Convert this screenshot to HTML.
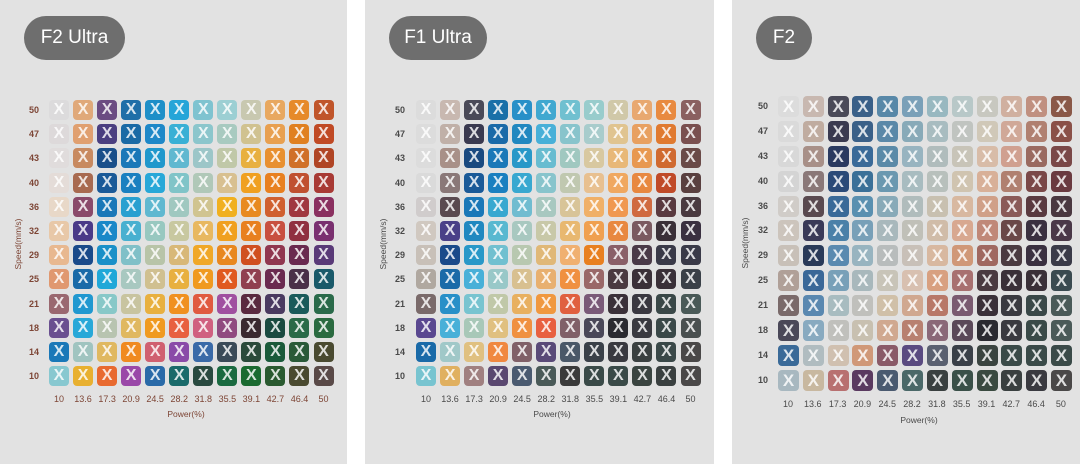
<!DOCTYPE html>
<html><head><meta charset="utf-8">
<style>
*{margin:0;padding:0;box-sizing:border-box}
body{width:1080px;height:464px;background:#fff;position:relative;overflow:hidden;font-family:"Liberation Sans",sans-serif}
.p{position:absolute;top:0;height:464px;background:#e2e2e2}
.b{position:absolute;top:16px;height:44px;border-radius:22px;background:#6e6e6e;color:#fff;font-size:19px;line-height:44px;text-align:center}
.g{position:absolute;display:grid;grid-template-columns:repeat(12,20px);grid-auto-rows:20px;column-gap:4.05px;row-gap:4.2px}
.g i{display:block;border-radius:4px;color:rgba(255,255,255,.82);font:bold 16px/20px "Liberation Sans",sans-serif;text-align:center;font-style:normal}
.g3{grid-template-columns:repeat(12,21px);grid-auto-rows:21px;column-gap:3.82px;row-gap:3.9px}
.g3 i{font-size:17px;line-height:21px}
.yl{position:absolute;display:grid;grid-auto-rows:20px;row-gap:4.2px;width:22px;text-align:center;font-size:9px;font-weight:bold;line-height:20px}
.yl3{grid-auto-rows:21px;row-gap:3.9px;line-height:21px}
.xl{position:absolute;display:grid;grid-template-columns:repeat(12,20px);column-gap:4.05px;font-size:9px;line-height:14px;text-align:center;white-space:nowrap}
.xl3{grid-template-columns:repeat(12,21px);column-gap:3.82px}
.xl span{display:block;width:20px;text-align:center;overflow:visible}
.pw{position:absolute;font-size:8.5px;line-height:12px;width:60px;text-align:center}
.sp{position:absolute;font-size:8.5px;line-height:12px;width:70px;text-align:center;transform:rotate(-90deg)}
.c1{color:#7d4535}
.c2{color:#4a4a4a}
</style></head><body>

<div class="p" style="left:0;width:347px"></div>
<div class="p" style="left:365px;width:349px"></div>
<div class="p" style="left:732px;width:348px"></div>

<div class="b" style="left:24px;width:101px">F2 Ultra</div>
<div class="b" style="left:389px;width:98px">F1 Ultra</div>
<div class="b" style="left:756px;width:56px">F2</div>

<!-- Panel 1 -->
<div class="yl c1" style="left:23px;top:100px"><span>50</span><span>47</span><span>43</span><span>40</span><span>36</span><span>32</span><span>29</span><span>25</span><span>21</span><span>18</span><span>14</span><span>10</span></div>
<div class="g" style="left:49px;top:100px">
<i style="background:#dcdbdc">X</i><i style="background:#e0a97a">X</i><i style="background:#6b4c82">X</i><i style="background:#1f6fa8">X</i><i style="background:#1e8fc8">X</i><i style="background:#25a5d8">X</i><i style="background:#7fc3d0">X</i><i style="background:#9ccfd3">X</i><i style="background:#c8c8b0">X</i><i style="background:#e8a860">X</i><i style="background:#e68a2a">X</i><i style="background:#c0552a">X</i>
<i style="background:#ddd9da">X</i><i style="background:#e0a070">X</i><i style="background:#4a3f80">X</i><i style="background:#1a6aa5">X</i><i style="background:#1e88c8">X</i><i style="background:#38b0d5">X</i><i style="background:#8cc6cc">X</i><i style="background:#a8cac0">X</i><i style="background:#d0c290">X</i><i style="background:#e8a050">X</i><i style="background:#e08020">X</i><i style="background:#c04a25">X</i>
<i style="background:#e0dcdc">X</i><i style="background:#c88a60">X</i><i style="background:#1a4f8a">X</i><i style="background:#1a78b8">X</i><i style="background:#2098cc">X</i><i style="background:#60b8d0">X</i><i style="background:#9cc6c8">X</i><i style="background:#c0c8a8">X</i><i style="background:#e8b040">X</i><i style="background:#e89030">X</i><i style="background:#d07028">X</i><i style="background:#b04525">X</i>
<i style="background:#e4dcd8">X</i><i style="background:#a86a50">X</i><i style="background:#1a5a98">X</i><i style="background:#1a80c0">X</i><i style="background:#28a8d8">X</i><i style="background:#80c4c8">X</i><i style="background:#b0c8b8">X</i><i style="background:#d8c090">X</i><i style="background:#f0a020">X</i><i style="background:#e88020">X</i><i style="background:#c05030">X</i><i style="background:#a83a35">X</i>
<i style="background:#e8d8c8">X</i><i style="background:#8a4a6a">X</i><i style="background:#1a78b8">X</i><i style="background:#28a0d0">X</i><i style="background:#60b8d0">X</i><i style="background:#a0c8c0">X</i><i style="background:#d0c490">X</i><i style="background:#f0b020">X</i><i style="background:#e88a20">X</i><i style="background:#d06030">X</i><i style="background:#a03840">X</i><i style="background:#8a3060">X</i>
<i style="background:#e8c8a8">X</i><i style="background:#4a3a88">X</i><i style="background:#1a88c8">X</i><i style="background:#48b0d0">X</i><i style="background:#98c8c0">X</i><i style="background:#c8c8a0">X</i><i style="background:#e8b860">X</i><i style="background:#f0a020">X</i><i style="background:#e88020">X</i><i style="background:#c85040">X</i><i style="background:#903040">X</i><i style="background:#7a3070">X</i>
<i style="background:#e8b890">X</i><i style="background:#1a4a8a">X</i><i style="background:#1a90c8">X</i><i style="background:#80c0c8">X</i><i style="background:#b8c4a8">X</i><i style="background:#d8b878">X</i><i style="background:#f0a828">X</i><i style="background:#e88820">X</i><i style="background:#d05020">X</i><i style="background:#903850">X</i><i style="background:#6a2a50">X</i><i style="background:#5a3a78">X</i>
<i style="background:#e09870">X</i><i style="background:#1a6aa8">X</i><i style="background:#20a8d8">X</i><i style="background:#a8c8c0">X</i><i style="background:#d0c090">X</i><i style="background:#e8b040">X</i><i style="background:#f09a20">X</i><i style="background:#e05a20">X</i><i style="background:#904050">X</i><i style="background:#6a2a50">X</i><i style="background:#4a3048">X</i><i style="background:#1a5a6a">X</i>
<i style="background:#9a6870">X</i><i style="background:#2098d0">X</i><i style="background:#88c8c8">X</i><i style="background:#c8c4a0">X</i><i style="background:#e8b040">X</i><i style="background:#f09020">X</i><i style="background:#e05a40">X</i><i style="background:#a050a0">X</i><i style="background:#5a2a40">X</i><i style="background:#4a3a60">X</i><i style="background:#1a5a5a">X</i><i style="background:#2a6a4a">X</i>
<i style="background:#6a5090">X</i><i style="background:#28a8d8">X</i><i style="background:#b8c4b0">X</i><i style="background:#e0b860">X</i><i style="background:#f09a20">X</i><i style="background:#e86040">X</i><i style="background:#d06080">X</i><i style="background:#904a80">X</i><i style="background:#3a2a30">X</i><i style="background:#1a4a40">X</i><i style="background:#2a6a48">X</i><i style="background:#2a6a40">X</i>
<i style="background:#1a78b8">X</i><i style="background:#a0c4c0">X</i><i style="background:#e0b860">X</i><i style="background:#f08a20">X</i><i style="background:#d06070">X</i><i style="background:#8a4aa8">X</i><i style="background:#3a6aa8">X</i><i style="background:#3a4a58">X</i><i style="background:#2a4a3a">X</i><i style="background:#1a5a3a">X</i><i style="background:#2a5a38">X</i><i style="background:#4a4a30">X</i>
<i style="background:#88c8d0">X</i><i style="background:#e8b030">X</i><i style="background:#e86a30">X</i><i style="background:#9a48a8">X</i><i style="background:#2a6aa8">X</i><i style="background:#1a6a6a">X</i><i style="background:#2a4a40">X</i><i style="background:#1a6a40">X</i><i style="background:#1a6a30">X</i><i style="background:#2a5a30">X</i><i style="background:#4a4a30">X</i><i style="background:#5a4a48">X</i>
</div>
<div class="xl c1" style="left:49px;top:392px"><span>10</span><span>13.6</span><span>17.3</span><span>20.9</span><span>24.5</span><span>28.2</span><span>31.8</span><span>35.5</span><span>39.1</span><span>42.7</span><span>46.4</span><span>50</span></div>
<div class="pw c1" style="left:156px;top:408px">Power(%)</div>
<div class="sp c1" style="left:-17px;top:238px">Speed(mm/s)</div>

<!-- Panel 2 -->
<div class="yl c2" style="left:389px;top:100px"><span>50</span><span>47</span><span>43</span><span>40</span><span>36</span><span>32</span><span>29</span><span>25</span><span>21</span><span>18</span><span>14</span><span>10</span></div>
<div class="g" style="left:416px;top:100px">
<i style="background:#dcdcdc">X</i><i style="background:#c8b8b0">X</i><i style="background:#4a4a58">X</i><i style="background:#1a70a8">X</i><i style="background:#2890c8">X</i><i style="background:#40a8d0">X</i><i style="background:#70c0d0">X</i><i style="background:#98cccc">X</i><i style="background:#d0c8a8">X</i><i style="background:#e8a870">X</i><i style="background:#e88a40">X</i><i style="background:#8a6060">X</i>
<i style="background:#dcdcdc">X</i><i style="background:#c0b0a8">X</i><i style="background:#3a3a50">X</i><i style="background:#1a6aa8">X</i><i style="background:#2088c0">X</i><i style="background:#48b0d8">X</i><i style="background:#88c4cc">X</i><i style="background:#a8cccc">X</i><i style="background:#e0c490">X</i><i style="background:#e8a060">X</i><i style="background:#e07a30">X</i><i style="background:#7a5050">X</i>
<i style="background:#dcdcdc">X</i><i style="background:#a89088">X</i><i style="background:#1a4a80">X</i><i style="background:#1a78b8">X</i><i style="background:#2898c8">X</i><i style="background:#68bcd0">X</i><i style="background:#a0c8c0">X</i><i style="background:#d8c8a0">X</i><i style="background:#e8b878">X</i><i style="background:#e89850">X</i><i style="background:#d06a30">X</i><i style="background:#6a4a48">X</i>
<i style="background:#dadada">X</i><i style="background:#8a7878">X</i><i style="background:#1a5a98">X</i><i style="background:#1a80c0">X</i><i style="background:#38a8d0">X</i><i style="background:#88c4cc">X</i><i style="background:#c0c8b0">X</i><i style="background:#e8c090">X</i><i style="background:#f0a860">X</i><i style="background:#e88840">X</i><i style="background:#c04a28">X</i><i style="background:#5a4040">X</i>
<i style="background:#d0cccc">X</i><i style="background:#5a4a50">X</i><i style="background:#1a78b8">X</i><i style="background:#38a8d0">X</i><i style="background:#70bcd0">X</i><i style="background:#a8c8c0">X</i><i style="background:#d8c498">X</i><i style="background:#f0b068">X</i><i style="background:#f09850">X</i><i style="background:#d06a40">X</i><i style="background:#5a3a40">X</i><i style="background:#4a3a40">X</i>
<i style="background:#d0c8c0">X</i><i style="background:#4a4088">X</i><i style="background:#2088c0">X</i><i style="background:#58b8d0">X</i><i style="background:#a8c8c0">X</i><i style="background:#c8c8a8">X</i><i style="background:#e8b870">X</i><i style="background:#f0a050">X</i><i style="background:#e88840">X</i><i style="background:#7a5a60">X</i><i style="background:#3a3038">X</i><i style="background:#3a3040">X</i>
<i style="background:#c8c0b8">X</i><i style="background:#1a4a8a">X</i><i style="background:#2898c8">X</i><i style="background:#70c0d0">X</i><i style="background:#b8c8b0">X</i><i style="background:#e0b878">X</i><i style="background:#f0b070">X</i><i style="background:#e88020">X</i><i style="background:#8a6068">X</i><i style="background:#4a3a48">X</i><i style="background:#3a3a48">X</i><i style="background:#3a3a48">X</i>
<i style="background:#b0a8a0">X</i><i style="background:#1a6aa8">X</i><i style="background:#48b0d8">X</i><i style="background:#98c8c8">X</i><i style="background:#d8c090">X</i><i style="background:#e8b070">X</i><i style="background:#f09040">X</i><i style="background:#9a6868">X</i><i style="background:#4a3a40">X</i><i style="background:#3a3038">X</i><i style="background:#3a3038">X</i><i style="background:#3a4048">X</i>
<i style="background:#7a6a6a">X</i><i style="background:#2890c8">X</i><i style="background:#78c4d0">X</i><i style="background:#c0c8a8">X</i><i style="background:#e8b060">X</i><i style="background:#f09840">X</i><i style="background:#e06040">X</i><i style="background:#7a5a78">X</i><i style="background:#3a3038">X</i><i style="background:#3a3840">X</i><i style="background:#3a4848">X</i><i style="background:#4a5a58">X</i>
<i style="background:#5a4890">X</i><i style="background:#48b0d8">X</i><i style="background:#a8c8b8">X</i><i style="background:#e0c080">X</i><i style="background:#f09040">X</i><i style="background:#e86040">X</i><i style="background:#806068">X</i><i style="background:#4a4858">X</i><i style="background:#2a2a30">X</i><i style="background:#3a3a40">X</i><i style="background:#3a4848">X</i><i style="background:#4a5050">X</i>
<i style="background:#1a6aa8">X</i><i style="background:#a0c8c8">X</i><i style="background:#e0c080">X</i><i style="background:#f08840">X</i><i style="background:#806068">X</i><i style="background:#5a4a78">X</i><i style="background:#4a5868">X</i><i style="background:#3a4048">X</i><i style="background:#3a3a40">X</i><i style="background:#3a4040">X</i><i style="background:#3a4848">X</i><i style="background:#4a4848">X</i>
<i style="background:#78c4d0">X</i><i style="background:#e0b060">X</i><i style="background:#a08080">X</i><i style="background:#5a4870">X</i><i style="background:#4a5a70">X</i><i style="background:#4a5a58">X</i><i style="background:#3a3a3a">X</i><i style="background:#3a4a48">X</i><i style="background:#3a4a48">X</i><i style="background:#3a4440">X</i><i style="background:#3a4040">X</i><i style="background:#4a4848">X</i>
</div>
<div class="xl c2" style="left:416px;top:392px"><span>10</span><span>13.6</span><span>17.3</span><span>20.9</span><span>24.5</span><span>28.2</span><span>31.8</span><span>35.5</span><span>39.1</span><span>42.7</span><span>46.4</span><span>50</span></div>
<div class="pw c2" style="left:522px;top:408px">Power(%)</div>
<div class="sp c2" style="left:348px;top:238px">Speed(mm/s)</div>

<!-- Panel 3 -->
<div class="yl yl3 c2" style="left:752px;top:96px"><span>50</span><span>47</span><span>43</span><span>40</span><span>36</span><span>32</span><span>29</span><span>25</span><span>21</span><span>18</span><span>14</span><span>10</span></div>
<div class="g g3" style="left:778px;top:96px">
<i style="background:#dcdcdc">X</i><i style="background:#c8b8b0">X</i><i style="background:#4a4a58">X</i><i style="background:#3a6088">X</i><i style="background:#5888a8">X</i><i style="background:#7aa0b8">X</i><i style="background:#98b8c0">X</i><i style="background:#b8c8c8">X</i><i style="background:#c8c8c0">X</i><i style="background:#d0b0a0">X</i><i style="background:#c09080">X</i><i style="background:#8a5848">X</i>
<i style="background:#dadada">X</i><i style="background:#c0aca0">X</i><i style="background:#3a3a50">X</i><i style="background:#3a6088">X</i><i style="background:#5a88a8">X</i><i style="background:#88aab8">X</i><i style="background:#a8bcc0">X</i><i style="background:#c0c4c0">X</i><i style="background:#d0c8b8">X</i><i style="background:#d0a898">X</i><i style="background:#b08070">X</i><i style="background:#8a5048">X</i>
<i style="background:#d8d8d8">X</i><i style="background:#a89088">X</i><i style="background:#2a3a60">X</i><i style="background:#3a6a98">X</i><i style="background:#5a8aa8">X</i><i style="background:#98b4c0">X</i><i style="background:#b0bcbc">X</i><i style="background:#c8c4b8">X</i><i style="background:#d8bca8">X</i><i style="background:#d0a090">X</i><i style="background:#9a6a60">X</i><i style="background:#7a4848">X</i>
<i style="background:#d4d4d4">X</i><i style="background:#8a7878">X</i><i style="background:#2a4a78">X</i><i style="background:#3a7098">X</i><i style="background:#6a98b0">X</i><i style="background:#a8bcc0">X</i><i style="background:#b8c0bc">X</i><i style="background:#d0c4b0">X</i><i style="background:#d8b098">X</i><i style="background:#b08070">X</i><i style="background:#7a4848">X</i><i style="background:#6a3a40">X</i>
<i style="background:#d0ccc8">X</i><i style="background:#5a4a50">X</i><i style="background:#3a6a98">X</i><i style="background:#5a90b0">X</i><i style="background:#88aab8">X</i><i style="background:#b0bcbc">X</i><i style="background:#c8c0b0">X</i><i style="background:#d8b8a0">X</i><i style="background:#d0a088">X</i><i style="background:#8a5a58">X</i><i style="background:#5a3a40">X</i><i style="background:#4a3840">X</i>
<i style="background:#ccc4bc">X</i><i style="background:#3a3a58">X</i><i style="background:#4a80a8">X</i><i style="background:#78a0b8">X</i><i style="background:#a8b8bc">X</i><i style="background:#c0c0b8">X</i><i style="background:#d0bca8">X</i><i style="background:#d8a890">X</i><i style="background:#c08878">X</i><i style="background:#6a4848">X</i><i style="background:#3a3040">X</i><i style="background:#4a3848">X</i>
<i style="background:#c8c0b8">X</i><i style="background:#2a3a58">X</i><i style="background:#5a8ab0">X</i><i style="background:#98b4c0">X</i><i style="background:#b8bcbc">X</i><i style="background:#c8c0b8">X</i><i style="background:#d8b8a0">X</i><i style="background:#d09878">X</i><i style="background:#a06860">X</i><i style="background:#4a3a40">X</i><i style="background:#3a3040">X</i><i style="background:#3a3a48">X</i>
<i style="background:#b0a098">X</i><i style="background:#3a6898">X</i><i style="background:#78a0b8">X</i><i style="background:#a8b8bc">X</i><i style="background:#c8c4b8">X</i><i style="background:#d8c0b0">X</i><i style="background:#d8a080">X</i><i style="background:#a87070">X</i><i style="background:#4a3a40">X</i><i style="background:#3a3038">X</i><i style="background:#3a3038">X</i><i style="background:#3a4a50">X</i>
<i style="background:#7a6a6a">X</i><i style="background:#5a88b0">X</i><i style="background:#a8bcc0">X</i><i style="background:#c0c0bc">X</i><i style="background:#d0c0a8">X</i><i style="background:#d0a890">X</i><i style="background:#b87868">X</i><i style="background:#7a5a70">X</i><i style="background:#3a3038">X</i><i style="background:#3a3a40">X</i><i style="background:#3a4848">X</i><i style="background:#4a5a58">X</i>
<i style="background:#4a4858">X</i><i style="background:#88aac0">X</i><i style="background:#c0c0bc">X</i><i style="background:#c8c0b0">X</i><i style="background:#d0a890">X</i><i style="background:#b88070">X</i><i style="background:#8a6878">X</i><i style="background:#5a4858">X</i><i style="background:#2a2a30">X</i><i style="background:#3a3a40">X</i><i style="background:#3a4a48">X</i><i style="background:#4a5a58">X</i>
<i style="background:#3a6a98">X</i><i style="background:#b0bcc0">X</i><i style="background:#d0c0b0">X</i><i style="background:#d09878">X</i><i style="background:#8a5a68">X</i><i style="background:#5a4a80">X</i><i style="background:#5a6070">X</i><i style="background:#3a4048">X</i><i style="background:#3a4440">X</i><i style="background:#3a4a48">X</i><i style="background:#3a4a48">X</i><i style="background:#3a4a48">X</i>
<i style="background:#a8b8c0">X</i><i style="background:#c8b8a0">X</i><i style="background:#b87070">X</i><i style="background:#5a3a60">X</i><i style="background:#4a5a70">X</i><i style="background:#4a6868">X</i><i style="background:#3a4040">X</i><i style="background:#3a5048">X</i><i style="background:#3a4a40">X</i><i style="background:#3a4040">X</i><i style="background:#3a3a40">X</i><i style="background:#4a4848">X</i>
</div>
<div class="xl xl3 c2" style="left:778px;top:397px"><span>10</span><span>13.6</span><span>17.3</span><span>20.9</span><span>24.5</span><span>28.2</span><span>31.8</span><span>35.5</span><span>39.1</span><span>42.7</span><span>46.4</span><span>50</span></div>
<div class="pw c2" style="left:889px;top:414px">Power(%)</div>
<div class="sp c2" style="left:710px;top:237px">Speed(mm/s)</div>

</body></html>
